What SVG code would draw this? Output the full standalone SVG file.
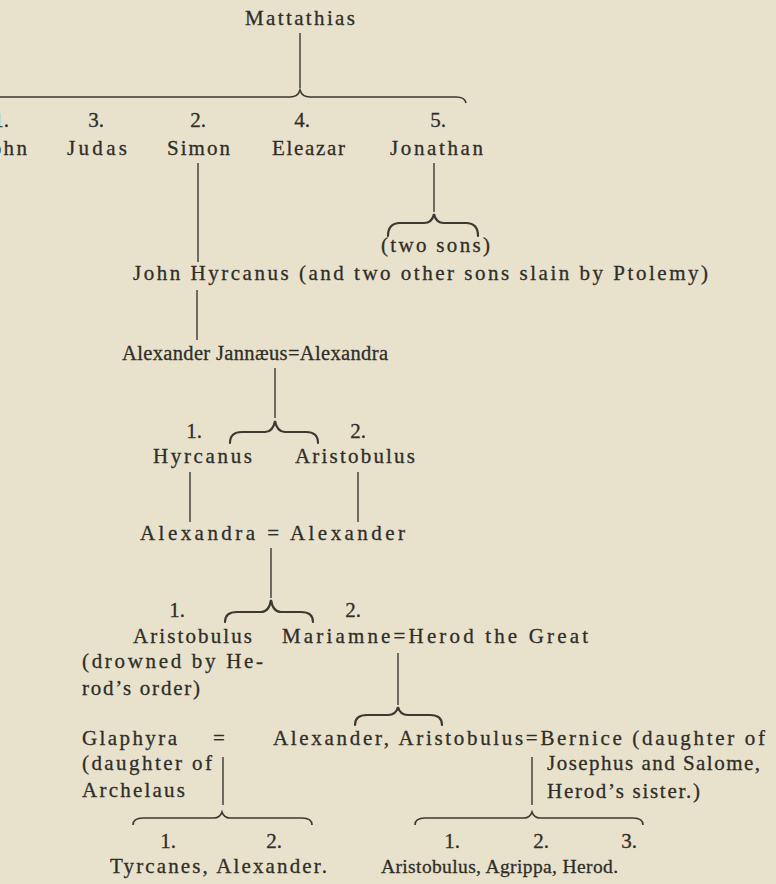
<svg xmlns="http://www.w3.org/2000/svg" width="776" height="884" viewBox="0 0 776 884">
<style>
text{font-family:"Liberation Serif","DejaVu Serif",serif;font-size:21px;fill:#2f2e28;stroke:#2f2e28;stroke-width:0.3;}
.n{text-anchor:middle;}
.ln{stroke:#3a3932;stroke-width:1.4;fill:none;}
.br{stroke:#3a3932;stroke-width:2.2;fill:none;stroke-linecap:round;}
.bf{stroke:#3a3932;stroke-width:1.6;fill:none;}
</style>
<rect width="776" height="884" fill="#e8e2cd"/>
<g id="connectors">
<line class="ln" x1="300" y1="33" x2="300" y2="88"/>
<path class="bf" d="M-5,97 L290,97 Q298,97 300,90 Q302,97 310,97 L456,97 Q465,97 466,103"/>
<line class="ln" x1="198" y1="163" x2="198" y2="262"/>
<line class="ln" x1="434" y1="163" x2="434" y2="212"/>
<path class="br" d="M388,236 Q388,223 400,223 L424,223 Q432,223 434,214 Q436,223 444,223 L466,223 Q478,223 478,236"/>
<line class="ln" x1="197" y1="290" x2="197" y2="340"/>
<line class="ln" x1="275" y1="368" x2="275" y2="418"/>
<path class="br" d="M230,443 Q230,432 242,432 L265,432 Q273,432 275,421 Q277,432 285,432 L306,432 Q318,432 318,443"/>
<line class="ln" x1="190" y1="472" x2="190" y2="522"/>
<line class="ln" x1="358" y1="472" x2="358" y2="522"/>
<line class="ln" x1="271" y1="548" x2="271" y2="598"/>
<path class="br" d="M225,622 Q225,612 237,612 L261,612 Q269,612 271,600 Q273,612 281,612 L301,612 Q313,612 313,622"/>
<line class="ln" x1="398" y1="653" x2="398" y2="705"/>
<path class="br" d="M355,725 Q355,715 367,715 L388,715 Q396,715 398,707 Q400,715 408,715 L430,715 Q442,715 442,725"/>
<line class="ln" x1="223" y1="757" x2="223" y2="805"/>
<path class="bf" d="M133,825 Q133,818 143,818 L214,818 Q220,818 222,812 Q224,818 230,818 L302,818 Q312,818 312,825"/>
<line class="ln" x1="532" y1="757" x2="532" y2="805"/>
<path class="bf" d="M415,825 Q415,818 425,818 L524,818 Q530,818 532,812 Q534,818 540,818 L633,818 Q643,818 643,825"/>
</g>
<g id="mattathias"><text x="245" y="25" textLength="110" lengthAdjust="spacing">Mattathias</text></g>
<g id="john"><text class="n" x="1" y="127">1.</text><text x="-20" y="155" textLength="47" lengthAdjust="spacing">John</text></g>
<g id="judas"><text class="n" x="96" y="127">3.</text><text x="67" y="155" textLength="60" lengthAdjust="spacing">Judas</text></g>
<g id="simon"><text class="n" x="198" y="127">2.</text><text x="167" y="155" textLength="63" lengthAdjust="spacing">Simon</text></g>
<g id="eleazar"><text class="n" x="302" y="127">4.</text><text x="272" y="155" textLength="73" lengthAdjust="spacing">Eleazar</text></g>
<g id="jonathan"><text class="n" x="438" y="127">5.</text><text x="390" y="155" textLength="93" lengthAdjust="spacing">Jonathan</text></g>
<g id="two-sons"><text x="381" y="252" textLength="109" lengthAdjust="spacing">(two sons)</text></g>
<g id="john-hyrcanus"><text x="133" y="280" textLength="575" lengthAdjust="spacing">John Hyrcanus (and two other sons slain by Ptolemy)</text></g>
<g id="jannaeus"><text x="122" y="360" textLength="266" lengthAdjust="spacing" style="font-size:20.5px">Alexander Jannæus=Alexandra</text></g>
<g id="hyrcanus"><text class="n" x="194" y="438">1.</text><text x="153" y="463" textLength="99" lengthAdjust="spacing">Hyrcanus</text></g>
<g id="aristobulus1"><text class="n" x="358" y="438">2.</text><text x="295" y="463" textLength="120" lengthAdjust="spacing">Aristobulus</text></g>
<g id="alexandra-alexander"><text x="140" y="540" textLength="265" lengthAdjust="spacing">Alexandra = Alexander</text></g>
<g id="aristobulus2"><text class="n" x="177" y="617">1.</text><text x="133" y="643" textLength="119" lengthAdjust="spacing">Aristobulus</text><text x="82" y="668" textLength="181" lengthAdjust="spacing">(drowned by He-</text><text x="82" y="695" textLength="118" lengthAdjust="spacing">rod’s order)</text></g>
<g id="mariamne-herod"><text class="n" x="353" y="617">2.</text><text x="282" y="643" textLength="306" lengthAdjust="spacing">Mariamne=Herod the Great</text></g>
<g id="glaphyra"><text x="82" y="745" textLength="95" lengthAdjust="spacing">Glaphyra</text><text x="213" y="745" textLength="20" lengthAdjust="spacing">=</text><text x="82" y="770" textLength="130" lengthAdjust="spacing">(daughter of</text><text x="82" y="797" textLength="103" lengthAdjust="spacing">Archelaus</text></g>
<g id="alexander-aristobulus-bernice"><text x="273" y="745" textLength="492" lengthAdjust="spacing">Alexander, Aristobulus=Bernice (daughter of</text><text x="547" y="770" textLength="213" lengthAdjust="spacing">Josephus and Salome,</text><text x="547" y="798" textLength="153" lengthAdjust="spacing">Herod’s sister.)</text></g>
<g id="tyrcanes-alexander"><text class="n" x="168" y="848">1.</text><text class="n" x="274" y="848">2.</text><text x="110" y="873" textLength="217" lengthAdjust="spacing">Tyrcanes, Alexander.</text></g>
<g id="aristobulus-agrippa-herod"><text class="n" x="452" y="848">1.</text><text class="n" x="541" y="848">2.</text><text class="n" x="629" y="848">3.</text><text x="381" y="873" textLength="237" lengthAdjust="spacing" style="font-size:19.5px">Aristobulus, Agrippa, Herod.</text></g>
</svg>
